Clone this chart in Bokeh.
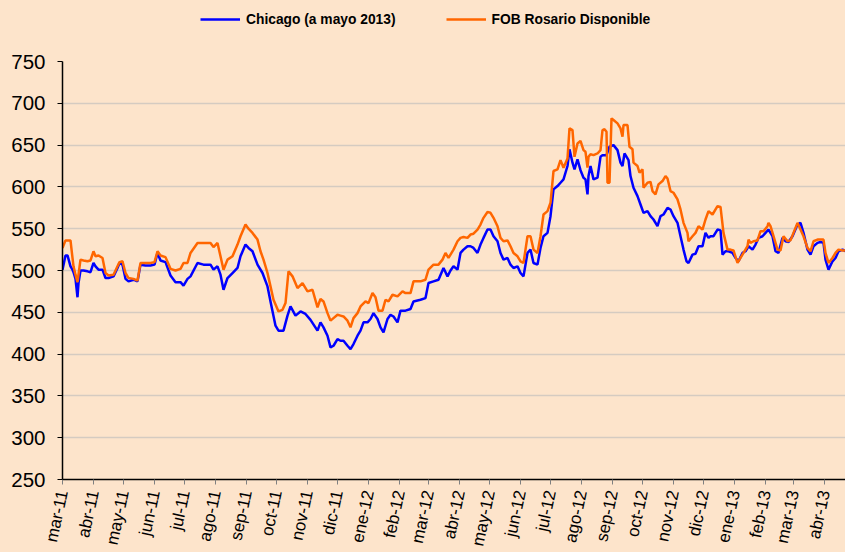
import pandas as pd
from bokeh.plotting import figure
from bokeh.layouts import column
from bokeh.models import Range1d, FixedTicker, Legend, LegendItem
from bokeh.embed import file_html
from bokeh.resources import INLINE

# ---- data (day offsets from 1 March 2011, US$/t) ----
start_date = "2011-03-01"

chicago_day = [0, 3, 5, 8, 10, 11, 13, 15, 16, 18, 21, 25, 28, 31, 33, 36, 40, 43, 46, 51,
               55, 57, 60, 63, 66, 71, 75, 78, 83, 88, 92, 95, 98, 103, 108, 113, 118, 121, 125, 128,
               135, 141, 148, 151, 155, 158, 161, 165, 170, 175, 178, 183, 186, 190, 195, 200, 205, 208, 213, 216,
               221, 225, 228, 233, 238, 243, 248, 255, 258, 261, 265, 268, 271, 275, 278, 281, 285, 288, 291, 295,
               298, 301, 305, 308, 311, 315, 318, 321, 325, 328, 331, 335, 338, 343, 348, 351, 358, 363, 366, 371,
               376, 381, 385, 388, 391, 395, 398, 401, 405, 408, 411, 415, 418, 421, 425, 428, 431, 435, 438, 441,
               445, 448, 451, 455, 458, 461, 465, 468, 471, 475, 478, 481, 485, 488, 491, 495, 498, 501, 505, 507,
               510, 512, 515, 518, 521, 523, 525, 526, 528, 531, 535, 538, 540, 544, 547, 551, 555, 558, 560, 562,
               566, 568, 571, 575, 578, 581, 585, 588, 591, 595, 598, 601, 605, 608, 611, 615, 618, 621, 624, 626,
               630, 633, 636, 640, 643, 646, 648, 651, 655, 658, 660, 663, 666, 670, 673, 676, 680, 683, 686, 690,
               693, 696, 700, 703, 706, 710, 713, 716, 720, 723, 726, 730, 735, 738, 741, 745, 748, 751, 755, 758,
               761, 763, 766, 770, 773, 776, 780, 783]
chicago_val = [501, 518, 518, 505, 501, 498, 490, 468, 485, 500, 500, 499, 498, 509, 505, 501, 501, 491, 491, 493,
               503, 509, 507, 490, 487, 489, 487, 507, 506, 506, 507, 521, 512, 510, 494, 486, 486, 482, 490, 493,
               509, 507, 507, 501, 505, 495, 477, 491, 497, 503, 517, 531, 527, 523, 507, 497, 481, 463, 434, 428,
               428, 446, 457, 446, 451, 448, 441, 428, 438, 432, 422, 408, 410, 418, 416, 416, 410, 406, 412, 422,
               428, 438, 438, 442, 449, 442, 432, 426, 442, 447, 445, 438, 452, 452, 454, 463, 465, 467, 485, 487,
               489, 503, 493, 500, 505, 501, 521, 525, 529, 529, 527, 521, 531, 539, 549, 549, 541, 535, 521, 513,
               515, 507, 503, 505, 497, 493, 521, 525, 509, 507, 527, 541, 545, 565, 597, 601, 605, 609, 625, 645,
               629, 621, 633, 620, 611, 609, 591, 613, 625, 609, 611, 636, 638, 638, 648, 650, 644, 629, 625, 640,
               632, 613, 599, 589, 579, 569, 571, 565, 561, 553, 565, 567, 575, 573, 565, 557, 541, 525, 511, 509,
               519, 520, 529, 529, 545, 539, 541, 541, 549, 548, 519, 523, 523, 521, 515, 511, 521, 523, 529, 525,
               531, 539, 541, 545, 549, 541, 523, 521, 539, 535, 534, 541, 555, 557, 545, 525, 519, 529, 533, 534,
               533, 513, 501, 511, 515, 523, 525, 523]

fob_day = [0, 3, 5, 8, 10, 11, 13, 15, 16, 18, 21, 25, 28, 31, 33, 36, 40, 43, 46, 51,
           55, 57, 60, 63, 66, 71, 75, 78, 83, 88, 92, 95, 98, 103, 108, 113, 118, 121, 125, 128,
           135, 141, 148, 151, 155, 158, 161, 165, 170, 175, 178, 183, 186, 190, 195, 198, 201, 205, 208, 211,
           216, 220, 223, 226, 230, 235, 240, 245, 250, 255, 258, 261, 265, 268, 271, 275, 278, 281, 285, 288,
           291, 295, 298, 303, 306, 310, 313, 316, 320, 323, 326, 330, 335, 340, 343, 348, 351, 358, 363, 366,
           371, 376, 380, 383, 386, 388, 391, 395, 398, 401, 405, 408, 411, 415, 418, 421, 425, 428, 431, 435,
           438, 441, 445, 448, 451, 455, 458, 461, 465, 468, 471, 475, 478, 481, 485, 488, 491, 495, 498, 501,
           505, 507, 510, 512, 515, 518, 521, 523, 525, 526, 528, 531, 535, 538, 540, 542, 544, 545, 547, 549,
           551, 555, 558, 560, 561, 565, 567, 570, 571, 575, 577, 580, 581, 585, 588, 590, 593, 596, 600, 603,
           605, 608, 611, 615, 618, 621, 625, 626, 630, 633, 636, 640, 643, 646, 650, 655, 658, 661, 665, 668,
           671, 675, 678, 681, 685, 686, 688, 691, 695, 698, 701, 705, 706, 708, 711, 715, 718, 721, 725, 728,
           731, 735, 738, 741, 745, 748, 751, 755, 758, 761, 763, 766, 770, 773, 776, 780, 783]
fob_val = [527, 536, 536, 536, 515, 505, 495, 486, 495, 513, 512, 511, 512, 523, 517, 518, 515, 497, 494, 495,
           505, 510, 511, 497, 491, 490, 488, 509, 509, 509, 510, 523, 518, 516, 502, 500, 502, 509, 509, 521,
           533, 533, 533, 528, 533, 517, 501, 513, 517, 531, 541, 555, 550, 545, 537, 523, 513, 497, 481, 465,
           451, 453, 461, 499, 493, 479, 485, 475, 477, 456, 466, 463, 449, 440, 443, 447, 446, 445, 440, 432,
           443, 449, 457, 463, 461, 473, 468, 452, 452, 465, 463, 471, 469, 475, 473, 473, 487, 487, 489, 501,
           507, 507, 513, 521, 515, 519, 525, 535, 539, 540, 539, 543, 544, 549, 555, 563, 570, 569, 563, 553,
           539, 535, 536, 529, 521, 517, 511, 509, 541, 541, 525, 521, 541, 567, 571, 581, 619, 621, 632, 623,
           634, 670, 668, 636, 652, 655, 644, 642, 623, 636, 639, 638, 640, 644, 668, 669, 666, 605, 605, 682,
           680, 676, 670, 660, 674, 674, 648, 645, 629, 625, 617, 621, 599, 605, 606, 595, 591, 603, 607, 613,
           610, 595, 593, 585, 573, 557, 545, 535, 541, 545, 553, 549, 561, 571, 567, 577, 576, 545, 525, 525,
           524, 509, 515, 521, 529, 537, 533, 535, 536, 547, 547, 553, 557, 553, 541, 525, 524, 541, 535, 536,
           545, 557, 549, 541, 527, 523, 535, 537, 537, 537, 521, 509, 515, 521, 525, 524, 524]

month_labels = ["mar-11", "abr-11", "may-11", "jun-11", "jul-11", "ago-11", "sep-11", "oct-11",
                "nov-11", "dic-11", "ene-12", "feb-12", "mar-12", "abr-12", "may-12", "jun-12",
                "jul-12", "ago-12", "sep-12", "oct-12", "nov-12", "dic-12", "ene-13", "feb-13",
                "mar-13", "abr-13"]
y_ticks = [250, 300, 350, 400, 450, 500, 550, 600, 650, 700, 750]

series_names = ["Chicago (a mayo 2013)", "FOB Rosario Disponible"]
series_colors = ["#0000FF", "#FF6600"]

# ---- tick positions (first day of each month) ----
t0 = pd.Timestamp(start_date)
month_starts = pd.date_range(start_date, periods=len(month_labels), freq="MS")
tick_days = [int((d - t0).days) for d in month_starts]

BG = "#FDE4CB"
FONT = "Liberation Sans"

# ---------- legend strip (its series lie outside its tiny view range) ----------
lg = figure(width=845, height=40, output_backend="svg", toolbar_location=None,
            x_range=Range1d(-2, -1), y_range=Range1d(-2, -1),
            x_axis_location=None, y_axis_location=None,
            min_border_left=62, min_border_right=0, min_border_top=0, min_border_bottom=0,
            background_fill_color=BG, border_fill_color=BG, outline_line_color=None,
            styles={"background-color": BG})
lg.xgrid.grid_line_color = None
lg.ygrid.grid_line_color = None
lr1 = lg.line(chicago_day, chicago_val, line_color=series_colors[0], line_width=2.5)
lr2 = lg.line(fob_day, fob_val, line_color=series_colors[1], line_width=2.5)
legend = Legend(items=[LegendItem(label=series_names[0], renderers=[lr1]),
                       LegendItem(label=series_names[1], renderers=[lr2])],
                orientation="horizontal", location=(138, 11),
                border_line_color=None, background_fill_alpha=0,
                label_text_font=FONT, label_text_font_style="bold",
                label_text_font_size="13.8px", label_text_color="black",
                glyph_width=40, glyph_height=20, label_standoff=6,
                spacing=50, padding=0, margin=0)
lg.add_layout(legend)

# ---------- main chart ----------
p = figure(width=845, height=512, output_backend="svg", toolbar_location=None,
           x_range=Range1d(0, 783), y_range=Range1d(250, 750),
           min_border_left=62, min_border_right=0, min_border_top=21, min_border_bottom=0,
           background_fill_color=BG, border_fill_color=BG, outline_line_color=None,
           styles={"background-color": BG})

p.line(chicago_day, chicago_val, line_color=series_colors[0], line_width=2.5)
p.line(fob_day, fob_val, line_color=series_colors[1], line_width=2.5)

# y axis
p.yaxis.ticker = FixedTicker(ticks=y_ticks)
p.yaxis.axis_line_color = "black"
p.yaxis.axis_line_width = 1.5
p.yaxis.major_tick_line_color = "black"
p.yaxis.major_tick_out = 5
p.yaxis.major_tick_in = 0
p.yaxis.minor_tick_line_color = None
p.yaxis.major_label_text_font = FONT
p.yaxis.major_label_text_font_size = "20.5px"
p.yaxis.major_label_text_color = "black"
p.yaxis.major_label_standoff = 12

# x axis
p.xaxis.ticker = FixedTicker(ticks=tick_days)
p.xaxis.major_label_overrides = {d: lab for d, lab in zip(tick_days, month_labels)}
p.xaxis.axis_line_color = "black"
p.xaxis.axis_line_width = 1.5
p.xaxis.major_tick_line_color = "#808080"
p.xaxis.major_tick_out = 5
p.xaxis.major_tick_in = 0
p.xaxis.minor_tick_line_color = None
p.xaxis.major_label_text_font = FONT
p.xaxis.major_label_text_font_size = "17px"
p.xaxis.major_label_text_color = "black"
p.xaxis.major_label_orientation = 1.36
p.xaxis.major_label_standoff = 6

# grid
p.xgrid.grid_line_color = None
p.ygrid.ticker = FixedTicker(ticks=y_ticks)
p.ygrid.grid_line_color = "#D5CBC1"
p.ygrid.grid_line_width = 1.5

page = column(lg, p, spacing=0, styles={"background-color": BG})
open("out.html", "w").write(file_html(page, INLINE))
